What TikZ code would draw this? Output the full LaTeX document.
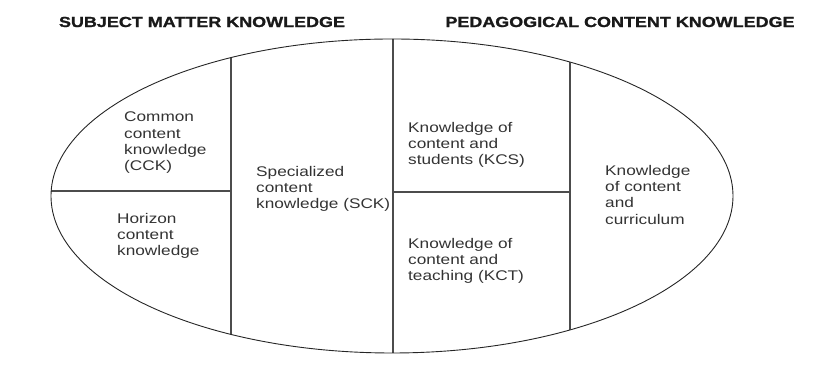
\documentclass[tikz,border=0pt]{standalone}
\usepackage{fontspec}
\setmainfont{Liberation Sans}[FakeStretch=1.23, BoldFeatures={FakeBold=1.3}]
\usepackage{tikz}

\begin{document}
\begin{tikzpicture}[x=1pt,y=1pt,
  part/.style={draw=none, anchor=north west, inner sep=0pt, align=left,
    text=black!80, font=\fontsize{14}{16.3}\selectfont},
  head/.style={draw=none, inner sep=0pt, text=black!90,
    font=\fontsize{14.6}{16}\selectfont\bfseries},
  wall/.style={line width=1.1pt, black!70}]
\useasboundingbox (0,0) rectangle (828,387);

\node[head] (smk) at (202,365) {SUBJECT MATTER KNOWLEDGE};
\node[head] (pck) at (620,365) {PEDAGOGICAL CONTENT KNOWLEDGE};

% the walls inside the oval
\begin{scope}
\clip (392,191) ellipse (341 and 157);
\draw[wall] (231,0) -- (231,387);
\draw[wall] (393,0) -- (393,387);
\draw[wall] (570,0) -- (570,387);
\draw[wall] (0,196) -- (231,196);
\draw[wall] (393,195) -- (570,195);
\end{scope}
\draw[line width=0.9pt, black!85] (392,191) ellipse (341 and 157);

\node[part] (cck) at (124,275) {Common\\content\\knowledge\\(CCK)};
\node[part] (hck) at (117,174) {Horizon\\content\\knowledge};
\node[part] (sck) at (256,221) {Specialized\\content\\knowledge (SCK)};
\node[part] (kcs) at (408,265) {Knowledge of\\content and\\students (KCS)};
\node[part] (kct) at (408,149) {Knowledge of\\content and\\teaching (KCT)};
\node[part] (kcc) at (605,222) {Knowledge\\of content\\and\\curriculum};
\end{tikzpicture}
\end{document}
